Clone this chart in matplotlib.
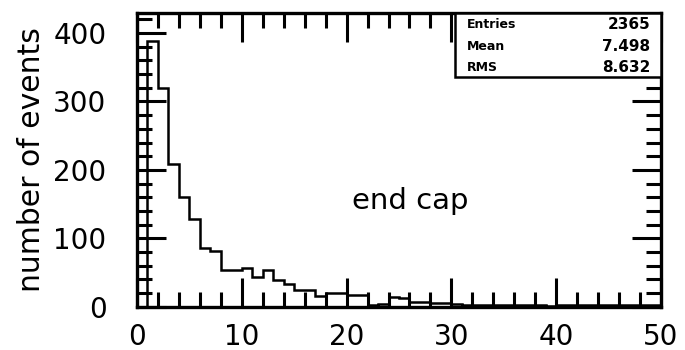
import numpy as np
import matplotlib
matplotlib.use("Agg")
import matplotlib.pyplot as plt
from matplotlib.patches import Rectangle
from matplotlib.ticker import MultipleLocator

# bin edges (width 1) and counts
bin_edges = np.arange(0, 51)
counts = [0, 388, 320, 209, 160, 128, 85, 82, 54, 54,
          57, 43, 53, 39, 33, 24, 24, 16, 20, 20,
          17, 17, 3, 4, 14, 12, 7, 7, 5, 5,
          4, 3, 3, 3, 3, 2, 3, 2, 3, 1,
          2, 2, 2, 2, 2, 2, 2, 2, 2, 2]

stat_names = ["Entries", "Mean", "RMS"]
stat_values = ["2365", "7.498", "8.632"]

fig = plt.figure(figsize=(6.85, 3.5), dpi=100)
ax = fig.add_axes([0.200, 0.124, 0.765, 0.840])

ax.stairs(counts, bin_edges, color="black", linewidth=1.8, baseline=0)

ax.set_xlim(0, 50)
ax.set_ylim(0, 430)
ax.xaxis.set_major_locator(MultipleLocator(10))
ax.xaxis.set_minor_locator(MultipleLocator(2))
ax.yaxis.set_major_locator(MultipleLocator(100))
ax.yaxis.set_minor_locator(MultipleLocator(20))
ax.tick_params(which="both", direction="in", top=True, right=True, width=2.2, labelsize=20)
ax.tick_params(which="major", length=21)
ax.tick_params(which="minor", length=11)
ax.tick_params(axis="x", which="major", pad=12)
ax.tick_params(axis="y", which="major", pad=22)
for s in ax.spines.values():
    s.set_linewidth(2.4)

ax.set_ylabel("number of events", fontsize=21.5, labelpad=5)

ax.text(0.522, 0.36, "end cap", transform=ax.transAxes, fontsize=21,
        ha="center", va="center")

# statistics box
ax.add_patch(Rectangle((0.607, 0.781), 0.393, 0.219, transform=ax.transAxes,
                       fill=True, facecolor="white", edgecolor="black",
                       linewidth=1.8, zorder=3))
rows_y = [0.958, 0.885, 0.812]
for name, val, yy in zip(stat_names, stat_values, rows_y):
    ax.text(0.63, yy, name, transform=ax.transAxes, fontsize=9,
            fontweight="bold", ha="left", va="center", zorder=4)
    ax.text(0.98, yy, val, transform=ax.transAxes, fontsize=11,
            fontweight="bold", ha="right", va="center", zorder=4)

fig.savefig("out.png", dpi=100)
